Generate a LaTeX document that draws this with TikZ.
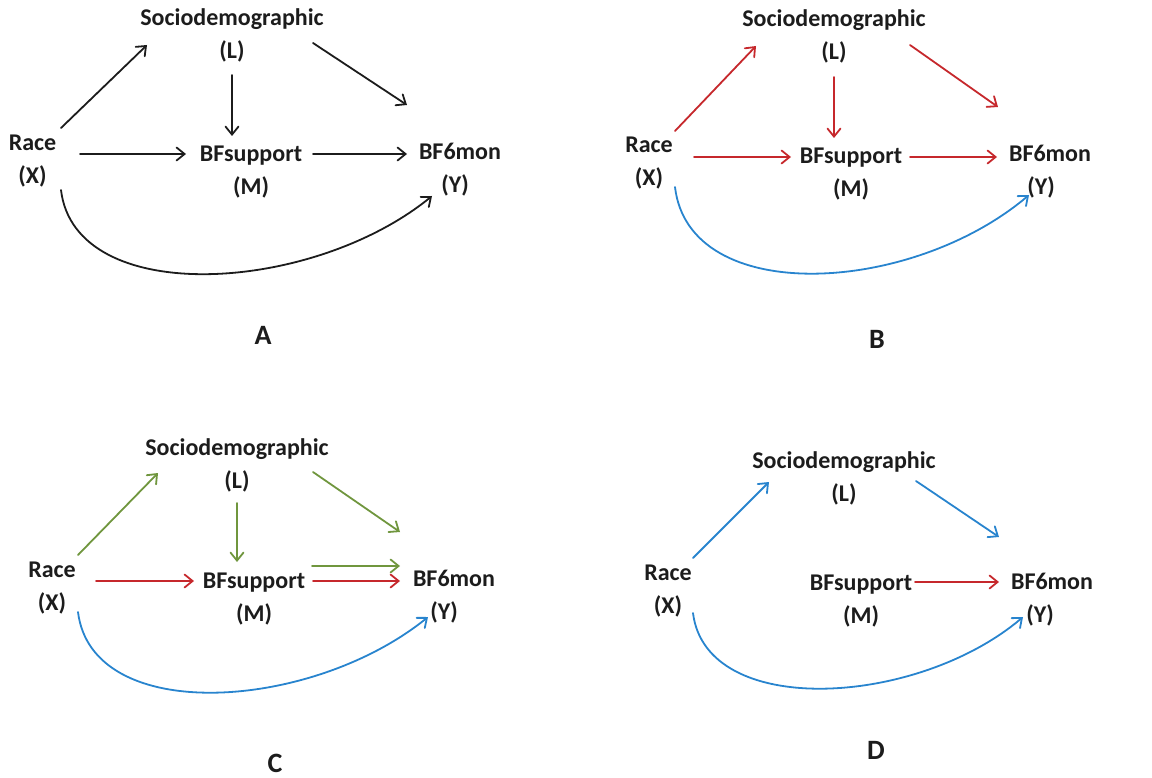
\documentclass[tikz,border=0pt]{standalone}
\usepackage{fontspec}
\setmainfont{Carlito}
\usetikzlibrary{arrows.meta}
\definecolor{ink}{RGB}{28,28,28}
\definecolor{pathred}{RGB}{198,40,44}
\definecolor{pathgreen}{RGB}{112,150,62}
\definecolor{pathblue}{RGB}{40,132,206}
% two-line variable label; optional arg pads the second line on the right
\newcommand\duo[3][0pt]{\strut#2\\\strut#3\rule{#1}{0pt}}
\begin{document}
\begin{tikzpicture}[x=1pt,y=-1pt,
  var/.style={font=\bfseries\fontsize{24}{33}\selectfont, align=center, inner sep=0pt, text=ink},
  tag/.style={font=\bfseries\fontsize{28}{34}\selectfont, inner sep=0pt, text=ink},
  link/.style={line width=1.8pt, line cap=round, -{Straight Barb[length=8pt,width=13pt,line cap=round]}},
  blk/.style={link, draw=ink},
  red/.style={link, draw=pathred},
  grn/.style={link, draw=pathgreen},
  blu/.style={link, draw=pathblue},
]
\useasboundingbox (0,0) rectangle (1152,778);

% ---------------- A ----------------
\node[var] (la) at (232,35.5) {\duo{Sociodemographic}{(L)}};
\node[var] (xa) at (32.5,160.5) {\duo{Race}{(X)}};
\node[var] (ma) at (251,171.5) {\duo{BFsupport}{(M)}};
\node[var] (ya) at (460,169) {\duo[10pt]{BF6mon}{(Y)}};
\node[tag] (ta) at (263,335) {A};
\draw[blk] ([shift={(28.5,-32.5)}]xa.center) -- ([shift={(-85,9.5)}]la.center);
\draw[blk] ([shift={(0,39.5)}]la.center) -- ([shift={(-19,-35.5)}]ma.center);
\draw[blk] ([shift={(81,7.5)}]la.center) -- ([shift={(-53,-64)}]ya.center);
\draw[blk] ([shift={(47.5,-6.5)}]xa.center) -- ([shift={(-65,-17.5)}]ma.center);
\draw[blk] ([shift={(62,-17.5)}]ma.center) -- ([shift={(-53,-15)}]ya.center);
\draw[blk] ([shift={(28.5,29.5)}]xa.center) .. controls +(14,118) and +(-120,98) .. ([shift={(-28,27)}]ya.center);

% ---------------- B ----------------
\node[var] (lb) at (834,36) {\duo{Sociodemographic}{(L)}};
\node[var] (xb) at (649,162.5) {\duo{Race}{(X)}};
\node[var] (mb) at (851,173.5) {\duo{BFsupport}{(M)}};
\node[var] (yb) at (1050,171.5) {\duo[18pt]{BF6mon}{(Y)}};
\node[tag] (tb) at (877,339) {B};
\draw[red] ([shift={(26,-31.5)}]xb.center) -- ([shift={(-78,10)}]lb.center);
\draw[red] ([shift={(0,41)}]lb.center) -- ([shift={(-17,-35.5)}]mb.center);
\draw[red] ([shift={(76,9)}]lb.center) -- ([shift={(-52,-64.5)}]yb.center);
\draw[red] ([shift={(45,-5.5)}]xb.center) -- ([shift={(-60,-16.5)}]mb.center);
\draw[red] ([shift={(59,-16.5)}]mb.center) -- ([shift={(-53,-14.5)}]yb.center);
\draw[blu] ([shift={(26,24.5)}]xb.center) .. controls +(14,120) and +(-118,100) .. ([shift={(-21,23.5)}]yb.center);

% ---------------- C ----------------
\node[var] (lc) at (237,465.5) {\duo{Sociodemographic}{(L)}};
\node[var] (xc) at (52,587.5) {\duo{Race}{(X)}};
\node[var] (mc) at (254,598) {\duo{BFsupport}{(M)}};
\node[var] (yc) at (454,596) {\duo[20pt]{BF6mon}{(Y)}};
\node[tag] (tc) at (275,763) {C};
\draw[grn] ([shift={(26,-32.5)}]xc.center) -- ([shift={(-79,7.5)}]lc.center);
\draw[grn] ([shift={(0,37.5)}]lc.center) -- ([shift={(-17,-36)}]mc.center);
\draw[grn] ([shift={(76,6.5)}]lc.center) -- ([shift={(-54,-64)}]yc.center);
\draw[red] ([shift={(44,-6.5)}]xc.center) -- ([shift={(-60,-17)}]mc.center);
\draw[grn] ([shift={(58,-32)}]mc.center) -- ([shift={(-54,-30)}]yc.center);
\draw[red] ([shift={(59,-17)}]mc.center) -- ([shift={(-54,-15)}]yc.center);
\draw[blu] ([shift={(26,24.5)}]xc.center) .. controls +(14,114) and +(-116,94) .. ([shift={(-26,21)}]yc.center);

% ---------------- D ----------------
\node[var] (ld) at (844,478.5) {\duo{Sociodemographic}{(L)}};
\node[var] (xd) at (668,590.5) {\duo{Race}{(X)}};
\node[var] (md) at (861,600.5) {\duo{BFsupport}{(M)}};
\node[var] (yd) at (1052,599) {\duo[24pt]{BF6mon}{(Y)}};
\node[tag] (td) at (876,750) {D};
\draw[blu] ([shift={(25,-32.5)}]xd.center) -- ([shift={(-75,3.5)}]ld.center);
\draw[blu] ([shift={(72,2.5)}]ld.center) -- ([shift={(-53,-62)}]yd.center);
\draw[red] ([shift={(54,-18.5)}]md.center) -- ([shift={(-53,-17)}]yd.center);
\draw[blu] ([shift={(25,22.5)}]xd.center) .. controls +(13,106) and +(-106,90) .. ([shift={(-29,18)}]yd.center);
\end{tikzpicture}
\end{document}
